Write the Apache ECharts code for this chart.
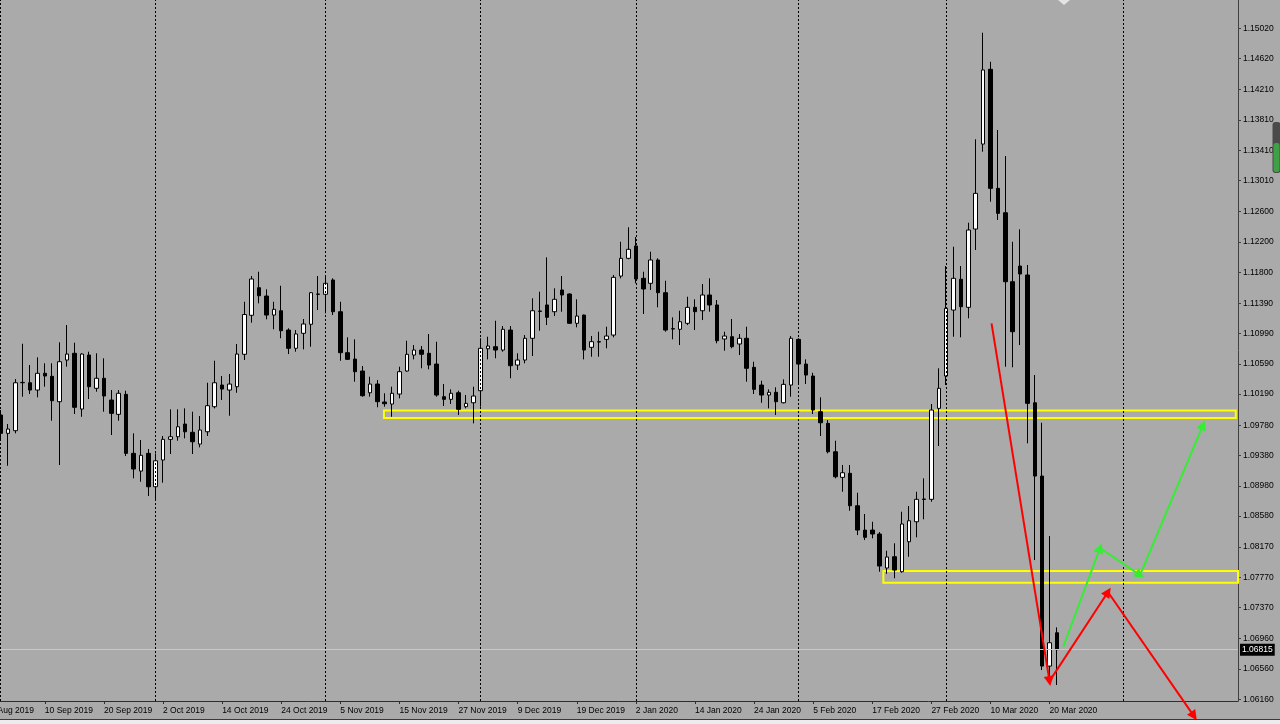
<!DOCTYPE html>
<html>
<head>
<meta charset="utf-8">
<script src="https://cdn.jsdelivr.net/npm/echarts@6/dist/echarts.min.js"></script>
<style>
html,body{margin:0;padding:0;background:#aaaaaa;overflow:hidden;}
#chart{width:1280px;height:724px;}
</style>
</head>
<body>
<div id="chart"></div>
<script>
// ---------- data ----------
const firstSlotDate = '2019-08-29';          // first category (partly off-screen)
const firstCandleDate = '2019-09-02';
const holidays = ['2019-12-25', '2020-01-01'];
const slotCount = 170;                        // trading-day slots incl. empty future

const opens = [1.09914,1.09672,1.09707,1.10340,1.10340,1.10244,1.10465,1.10425,1.10090,1.10640,
1.10729,1.09993,1.10706,1.10267,1.10399,1.10112,1.09923,1.10187,1.09408,1.09174,
1.09408,1.08967,1.09320,1.09593,1.09627,1.09795,1.09686,1.09531,1.09693,1.10024,
1.10310,1.10244,1.10288,1.10716,1.11231,1.11595,1.11485,1.11234,1.11291,1.11036,
1.10795,1.10993,1.11112,1.11512,1.11508,1.11697,1.11278,1.10737,1.10653,1.10495,
1.10208,1.10323,1.10086,1.10059,1.10191,1.10495,1.10706,1.10772,1.10729,1.10587,
1.10156,1.10121,1.10208,1.10024,1.10076,1.10235,1.10789,1.10816,1.10772,1.11036,
1.10574,1.10640,1.10927,1.11287,1.11367,1.11278,1.11565,1.11512,1.11125,1.11234,
1.10808,1.10882,1.10913,1.10970,1.11749,1.11983,1.12146,1.11719,1.11653,1.11961,
1.11529,1.11054,1.11046,1.11125,1.11336,1.11291,1.11499,1.11367,1.10918,1.10948,
1.10852,1.10927,1.10544,1.10310,1.10178,1.10214,1.10076,1.10310,1.10913,1.10587,
1.10429,1.09958,1.09804,1.09429,1.09091,1.09144,1.08716,1.08395,1.08395,1.08343,
1.07894,1.08043,1.07845,1.08241,1.08505,1.08805,1.08801,1.10002,1.10429,1.11300,
1.11706,1.11336,1.12370,1.13492,1.14479,1.12907,1.12585,1.11674,1.11881,1.11763,
1.10076,1.09108,1.06599,1.07039];

const closes = [1.09672,1.09729,1.10340,1.10345,1.10244,1.10465,1.10429,1.10103,1.10618,1.10719,
1.10016,1.10719,1.10288,1.10399,1.10165,1.09936,1.10201,1.09408,1.09201,1.09382,
1.08967,1.09310,1.09593,1.09627,1.09759,1.09693,1.09561,1.09716,1.10037,1.10340,
1.10257,1.10323,1.10719,1.11241,1.11710,1.11489,1.11234,1.11310,1.11027,1.10795,
1.10984,1.11116,1.11529,1.11508,1.11653,1.11278,1.10737,1.10649,1.10486,1.10169,
1.10323,1.10090,1.10063,1.10201,1.10486,1.10716,1.10772,1.10716,1.10574,1.10178,
1.10121,1.10201,1.09989,1.10068,1.10165,1.10795,1.10825,1.10772,1.11046,1.10565,
1.10640,1.10927,1.11291,1.11283,1.11204,1.11442,1.11499,1.11125,1.11221,1.10772,
1.10882,1.10878,1.10957,1.11732,1.11983,1.12102,1.11710,1.11578,1.11961,1.11529,
1.11036,1.11050,1.11146,1.11336,1.11278,1.11499,1.11367,1.10895,1.10957,1.10816,
1.10927,1.10531,1.10253,1.10178,1.10214,1.10090,1.10319,1.10927,1.10587,1.10442,
1.09980,1.09812,1.09429,1.09099,1.09152,1.08716,1.08395,1.08299,1.08343,1.07920,
1.08039,1.07867,1.08475,1.08518,1.08801,1.08800,1.09980,1.10267,1.11323,1.11719,
1.11344,1.12357,1.12841,1.14470,1.12907,1.12577,1.11674,1.11014,1.11776,1.10068,
1.09108,1.06599,1.06907,1.06815];

const lows = [1.09584,1.09244,1.09672,1.10156,1.10191,1.10148,1.10288,1.09839,1.09254,1.10552,
1.09927,1.09891,1.10125,1.10222,1.09958,1.09650,1.09839,1.09373,1.09078,1.09033,
1.08844,1.08792,1.09020,1.09399,1.09575,1.09606,1.09399,1.09487,1.09637,1.10002,
1.10112,1.09905,1.10208,1.10640,1.11133,1.11389,1.11178,1.11046,1.10927,1.10719,
1.10750,1.10781,1.10816,1.11300,1.11257,1.11234,1.10631,1.10640,1.10354,1.10156,
1.10156,1.10016,1.10024,1.09891,1.10134,1.10486,1.10649,1.10531,1.10517,1.10156,
1.10033,1.10059,1.09914,1.10002,1.09804,1.10024,1.10649,1.10663,1.10750,1.10399,
1.10508,1.10597,1.10693,1.11027,1.11102,1.11221,1.11278,1.11116,1.11072,1.10649,
1.10684,1.10684,1.10795,1.10940,1.11719,1.11970,1.11653,1.11248,1.11565,1.11336,
1.11014,1.10913,1.10838,1.11102,1.11036,1.11168,1.11278,1.10861,1.10763,1.10795,
1.10706,1.10354,1.10191,1.10076,1.10002,1.09914,1.10068,1.10156,1.10323,1.10323,
1.09927,1.09637,1.09408,1.09078,1.08901,1.08650,1.08329,1.08263,1.08286,1.07845,
1.07818,1.07758,1.07832,1.08043,1.08299,1.08537,1.08769,1.09505,1.10310,1.10948,
1.10940,1.11191,1.12093,1.13391,1.12731,1.12489,1.10552,1.10544,1.10838,1.09540,
1.07999,1.06547,1.06371,1.06349];

const highs = [1.09980,1.09795,1.10389,1.10855,1.10574,1.10676,1.10597,1.10597,1.10874,1.11102,
1.10869,1.10729,1.10750,1.10729,1.10663,1.10244,1.10244,1.10235,1.09672,1.09584,
1.09465,1.09408,1.09637,1.09989,1.09989,1.10002,1.09958,1.09901,1.10340,1.10631,
1.10429,1.10455,1.10852,1.11410,1.11749,1.11806,1.11574,1.11410,1.11621,1.11059,
1.11036,1.11182,1.11538,1.11749,1.11749,1.11719,1.11410,1.10940,1.10913,1.10561,
1.10420,1.10376,1.10201,1.10288,1.10552,1.10895,1.10838,1.10825,1.10984,1.10882,
1.10323,1.10253,1.10235,1.10178,1.10288,1.10927,1.10948,1.11159,1.11089,1.11089,
1.10729,1.10970,1.11455,1.11542,1.11996,1.11587,1.11749,1.11521,1.11442,1.11240,
1.10957,1.11014,1.11080,1.11763,1.12202,1.12393,1.12264,1.11806,1.12070,1.11983,
1.11687,1.11204,1.11291,1.11476,1.11442,1.11644,1.11719,1.11433,1.11014,1.11182,
1.10984,1.11080,1.10618,1.10367,1.10253,1.10280,1.10385,1.10957,1.10927,1.10649,
1.10472,1.10148,1.09848,1.09575,1.09254,1.09254,1.08888,1.08607,1.08505,1.08369,
1.08122,1.08220,1.08637,1.08712,1.08901,1.09078,1.10059,1.10531,1.11881,1.12136,
1.11881,1.12453,1.13555,1.14962,1.14579,1.13677,1.13334,1.12202,1.12366,1.11895,
1.10442,1.09812,1.08316,1.07110];

const priceTicks = [1.06160,1.06560,1.06960,1.07370,1.07770,1.08170,1.08580,1.08980,1.09380,1.09780,
1.10190,1.10590,1.10990,1.11390,1.11800,1.12200,1.12600,1.13010,1.13410,1.13810,1.14210,1.14620,1.15020];
const priceMin = 1.06138;
const priceMax = 1.15394;
const currentPrice = 1.06815;

// month separators (MT4 period grid)
const separatorDates = ['2019-09-02','2019-10-01','2019-11-01','2019-12-02','2020-01-02','2020-02-03','2020-03-02','2020-04-03'];

// drawn objects, in [slot index, price]
const upperZone = [[53.9, 1.09973], [169.2, 1.09874]];
const lowerZone = [[121.5, 1.07854], [169.5, 1.07700]];
const redPath = [[136.14, 1.11125], [143.99, 1.06401], [151.90, 1.07577], [163.54, 1.05939]];
const greenPath = [[145.85, 1.06854], [150.82, 1.08158], [156.24, 1.07801], [164.76, 1.09782]];

// ---------- build ----------
function buildDates() {
  const out = [];
  let t = Date.parse(firstSlotDate + 'T00:00:00Z');
  while (out.length < slotCount) {
    const d = new Date(t);
    const wd = d.getUTCDay();
    const s = d.toISOString().slice(0, 10);
    if (wd !== 0 && wd !== 6 && holidays.indexOf(s) < 0) out.push(s);
    t += 86400000;
  }
  return out;
}
const dates = buildDates();
const startIdx = dates.indexOf(firstCandleDate);
const lastIdx = startIdx + opens.length - 1;
const candleData = dates.map((d, k) => {
  const j = k - startIdx;
  if (j < 0 || j >= opens.length) return '-';
  return [opens[j], closes[j], lows[j], highs[j]];
});

const MONTHS = ['Jan','Feb','Mar','Apr','May','Jun','Jul','Aug','Sep','Oct','Nov','Dec'];
function fmtDate(s) {
  const p = s.split('-');
  return (+p[2]) + ' ' + MONTHS[+p[1] - 1] + ' ' + p[0];
}
const showLabel = (idx) => idx % 8 === 0 && idx <= lastIdx;

const FONT = '"Liberation Sans", Arial, sans-serif';
const GRID_LEFT = -17.98;
const GRID_RIGHT = 42;

function segments(path, color) {
  const out = [];
  for (let i = 0; i < path.length - 1; i++) {
    out.push([
      { coord: path[i], lineStyle: { color: color, width: 2, type: 'solid' }, itemStyle: { color: color } },
      { coord: path[i + 1] }
    ]);
  }
  return out;
}

const sepLines = separatorDates.map(d => ({
  xAxis: d,
  lineStyle: { color: '#000', width: 1, type: [2, 2] },
  label: { show: false }
}));

const chart = echarts.init(document.getElementById('chart'), null, { renderer: 'canvas' });
chart.setOption({
  animation: false,
  backgroundColor: '#aaaaaa',
  grid: [
    { left: GRID_LEFT, right: GRID_RIGHT, top: 0, bottom: 23, containLabel: false, outerBoundsMode: 'none' },
    { left: GRID_LEFT, right: GRID_RIGHT, top: 0, bottom: 0, containLabel: false, outerBoundsMode: 'none' }
  ],
  xAxis: [
    {
      type: 'category', gridIndex: 0, data: dates, boundaryGap: true,
      axisLine: { show: true, onZero: false, lineStyle: { color: '#2e2e2e', width: 1 } },
      axisTick: { show: true, alignWithLabel: true, interval: showLabel, length: 3, lineStyle: { color: '#2e2e2e' } },
      axisLabel: {
        show: true, interval: showLabel, formatter: fmtDate, align: 'left', margin: 5,
        color: '#000', fontSize: 8.5, fontFamily: FONT
      },
      splitLine: { show: false }
    },
    { type: 'value', gridIndex: 1, min: -0.5, max: slotCount - 0.5, show: false }
  ],
  yAxis: [
    {
      type: 'value', gridIndex: 0, position: 'right', min: priceMin, max: priceMax, scale: true,
      axisLine: { show: true, lineStyle: { color: '#404040', width: 1 } },
      axisTick: { show: true, customValues: priceTicks, length: 3, lineStyle: { color: '#404040' } },
      axisLabel: {
        customValues: priceTicks, formatter: v => v.toFixed(5), margin: 5, hideOverlap: false,
        color: '#000', fontSize: 8.5, fontFamily: FONT
      },
      splitLine: { show: false }
    },
    {
      type: 'value', gridIndex: 1, show: false, scale: true,
      max: priceMax, min: priceMax - (priceMax - priceMin) * 724 / 701
    }
  ],
  graphic: [
    { type: 'rect', shape: { x: 0, y: 720, width: 1280, height: 4 }, style: { fill: '#ececec' }, z: 100 },
    { type: 'rect', shape: { x: 0, y: 719, width: 1280, height: 1 }, style: { fill: '#3a3a3a' }, z: 100 },
    { type: 'polygon', shape: { points: [[1058, 0], [1070, 0], [1064, 5]] }, style: { fill: '#e4e4e4' }, z: 100 },
    { type: 'rect', shape: { x: 1272.5, y: 122, width: 8, height: 51, r: 3 }, style: { fill: '#4a4a4a' }, z: 100 },
    { type: 'rect', shape: { x: 1273.5, y: 143, width: 6, height: 29, r: 2 }, style: { fill: '#3fa046' }, z: 101 }
  ],
  series: [
    {
      type: 'candlestick', xAxisIndex: 0, yAxisIndex: 0,
      data: candleData, barWidth: 4,
      itemStyle: { color: '#ffffff', color0: '#000000', borderColor: '#000000', borderColor0: '#000000', borderWidth: 1 },
      emphasis: { disabled: true },
      markLine: {
        silent: true, animation: false, symbol: ['none', 'none'], precision: 5,
        data: sepLines.concat([{
          yAxis: currentPrice,
          lineStyle: { color: '#c9c9c9', width: 1, type: 'solid' },
          label: {
            show: true, position: 'end', distance: 2, formatter: currentPrice.toFixed(5),
            backgroundColor: '#000', color: '#fff', padding: [2, 2, 1, 2],
            fontSize: 8.5, fontFamily: FONT
          }
        }])
      }
    },
    {
      type: 'line', xAxisIndex: 1, yAxisIndex: 1, data: [], clip: false, silent: true,
      markArea: {
        silent: true, animation: false, precision: 5,
        itemStyle: { color: 'rgba(0,0,0,0)', borderColor: '#ffff00', borderWidth: 2 },
        label: { show: false },
        data: [
          [{ coord: upperZone[0] }, { coord: upperZone[1] }],
          [{ coord: lowerZone[0] }, { coord: lowerZone[1] }]
        ]
      },
      markLine: {
        silent: true, animation: false, precision: 5,
        symbol: ['none', 'triangle'], symbolSize: 10,
        label: { show: false },
        data: segments(redPath, '#ff0000').concat(segments(greenPath, '#33ee33'))
      }
    }
  ]
});
</script>
</body>
</html>
